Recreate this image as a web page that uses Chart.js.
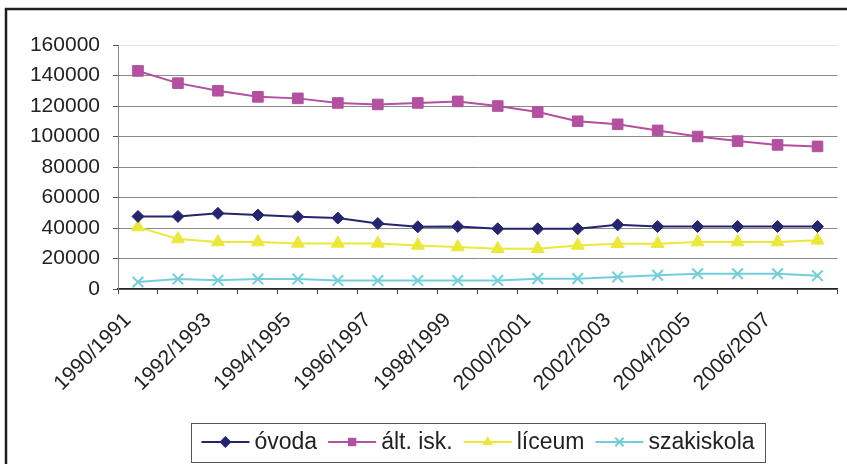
<!DOCTYPE html>
<html>
<head>
<meta charset="utf-8">
<script src="https://cdn.jsdelivr.net/npm/chart.js@4/dist/chart.umd.min.js"></script>
<style>
  html, body { margin: 0; padding: 0; background: #fff; }
  #wrap { width: 847px; height: 464px; }
</style>
</head>
<body>
<div id="wrap"><canvas id="lineChart" width="847" height="464"></canvas></div>
<script>
const categories = [
  "1990/1991", "1991/1992", "1992/1993", "1993/1994", "1994/1995", "1995/1996",
  "1996/1997", "1997/1998", "1998/1999", "1999/2000", "2000/2001", "2001/2002",
  "2002/2003", "2003/2004", "2004/2005", "2005/2006", "2006/2007", "2007/2008"
];
const ovoda = [47600, 47600, 49600, 48500, 47400, 46500, 43000, 40800, 41000,
  39500, 39500, 39500, 42100, 41000, 41000, 41000, 41000, 41000];
const altIsk = [143000, 135000, 130000, 126000, 125000, 122000, 121000, 122000, 123000,
  120000, 116000, 110000, 108000, 104000, 100000, 97000, 94500, 93500];
const liceum = [40600, 32800, 30800, 30800, 29900, 29900, 29900, 28600, 27500,
  26400, 26400, 28600, 29700, 29700, 30800, 30800, 30800, 31900];
const szakiskola = [4600, 6500, 5700, 6500, 6500, 5500, 5500, 5500, 5500,
  5500, 6800, 6800, 7900, 9000, 10000, 10000, 10000, 8700];
const yTicks = [0, 20000, 40000, 60000, 80000, 100000, 120000, 140000, 160000];

const FONT = '"Liberation Sans", Arial, sans-serif';

const series = [
  { label: "óvoda", data: ovoda, color: "#25256f", style: "rectRot", radius: 6 },
  { label: "ált. isk.", data: altIsk, color: "#b450a0", style: "rect", radius: 7.5 },
  { label: "líceum", data: liceum, color: "#ece83a", style: "triangle", radius: 7.5 },
  { label: "szakiskola", data: szakiskola, color: "#72cfda", style: "crossRot", radius: 7.5 }
];

// small marker painter for the legend icons
function drawMarker(ctx, style, x, y, r, color) {
  ctx.save();
  ctx.fillStyle = color;
  ctx.strokeStyle = color;
  ctx.lineWidth = 2;
  ctx.beginPath();
  if (style === "rectRot") {
    ctx.moveTo(x, y - r); ctx.lineTo(x + r, y); ctx.lineTo(x, y + r); ctx.lineTo(x - r, y);
    ctx.closePath(); ctx.fill();
  } else if (style === "rect") {
    ctx.rect(x - r * 0.7, y - r * 0.7, r * 1.4, r * 1.4); ctx.fill();
  } else if (style === "triangle") {
    ctx.moveTo(x, y - r); ctx.lineTo(x + r * 0.87, y + r * 0.5); ctx.lineTo(x - r * 0.87, y + r * 0.5);
    ctx.closePath(); ctx.fill();
  } else {
    const d = r * 0.7;
    ctx.moveTo(x - d, y - d); ctx.lineTo(x + d, y + d);
    ctx.moveTo(x + d, y - d); ctx.lineTo(x - d, y + d);
    ctx.stroke();
  }
  ctx.restore();
}

const framePlugin = {
  id: "frame",
  afterDraw(chart) {
    const ctx = chart.ctx;
    ctx.save();
    ctx.strokeStyle = "#1e1e1e";
    ctx.lineWidth = 2.5;
    ctx.strokeRect(6, 9, 900, 520);
    ctx.restore();
  }
};

const boxLegend = {
  id: "boxLegend",
  afterDraw(chart) {
    const ctx = chart.ctx;
    const box = { left: 191, top: 423, right: 765, bottom: 462 };
    const cy = 442;
    const iconW = 48, gapText = 5, gapItem = 11;
    ctx.save();
    ctx.strokeStyle = "#555";
    ctx.lineWidth = 1;
    ctx.strokeRect(box.left + 0.5, box.top + 0.5, box.right - box.left, box.bottom - box.top);
    ctx.font = "23px " + FONT;
    ctx.textBaseline = "middle";
    const widths = series.map(s => ctx.measureText(s.label).width);
    const total = widths.reduce((a, w) => a + iconW + gapText + w, 0) + gapItem * (series.length - 1);
    let x = (box.left + box.right) / 2 - total / 2;
    series.forEach((s, i) => {
      ctx.strokeStyle = s.color;
      ctx.lineWidth = 2;
      ctx.beginPath();
      ctx.moveTo(x, cy); ctx.lineTo(x + iconW, cy);
      ctx.stroke();
      drawMarker(ctx, s.style, x + iconW / 2, cy, 6, s.color);
      ctx.fillStyle = "#222";
      ctx.fillText(s.label, x + iconW + gapText, cy + 1);
      x += iconW + gapText + widths[i] + gapItem;
    });
    ctx.restore();
  }
};

new Chart(document.getElementById("lineChart").getContext("2d"), {
  type: "line",
  data: {
    labels: categories,
    datasets: series.map(s => ({
      label: s.label,
      data: s.data,
      borderColor: s.color,
      backgroundColor: s.color,
      borderWidth: 2,
      pointStyle: s.style,
      pointRadius: s.radius,
      pointBorderWidth: s.style === "crossRot" ? 2 : 1,
      pointBorderColor: s.color,
      pointBackgroundColor: s.color,
      tension: 0,
      fill: false
    }))
  },
  options: {
    responsive: false,
    animation: false,
    layout: { padding: { top: 45, right: 8, left: 0, bottom: 0 } },
    plugins: {
      legend: { display: false },
      tooltip: { enabled: false }
    },
    scales: {
      x: {
        type: "category",
        offset: true,
        grid: { offset: true, drawOnChartArea: false, drawTicks: true, tickLength: 5, tickColor: "#444" },
        border: { color: "#222", width: 1.5 },
        ticks: {
          autoSkip: false,
          minRotation: 45,
          maxRotation: 45,
          padding: 14,
          labelOffset: -10,
          color: "#222",
          font: { family: FONT, size: 21 },
          callback: (v, i) => (i % 2 === 0 ? categories[i] : "")
        },
        afterFit: scale => {
          scale.height = 175;
          scale.paddingLeft = 0;
          scale.paddingRight = 0;
        }
      },
      y: {
        min: yTicks[0],
        max: yTicks[yTicks.length - 1],
        afterBuildTicks: scale => { scale.ticks = yTicks.map(v => ({ value: v })); },
        grid: {
          color: ctx => (ctx.tick && ctx.tick.value === 160000 ? "#e3e3e3" : "#8a8a8a"),
          tickColor: "#555",
          tickLength: 5
        },
        border: { color: "#888" },
        ticks: {
          padding: 13,
          color: "#222",
          font: { family: FONT, size: 21 },
          callback: v => String(v)
        },
        afterFit: scale => {
          scale.width = 118;
          scale.paddingTop = 0;
          scale.paddingBottom = 0;
        }
      }
    }
  },
  plugins: [framePlugin, boxLegend]
});
</script>
</body>
</html>
